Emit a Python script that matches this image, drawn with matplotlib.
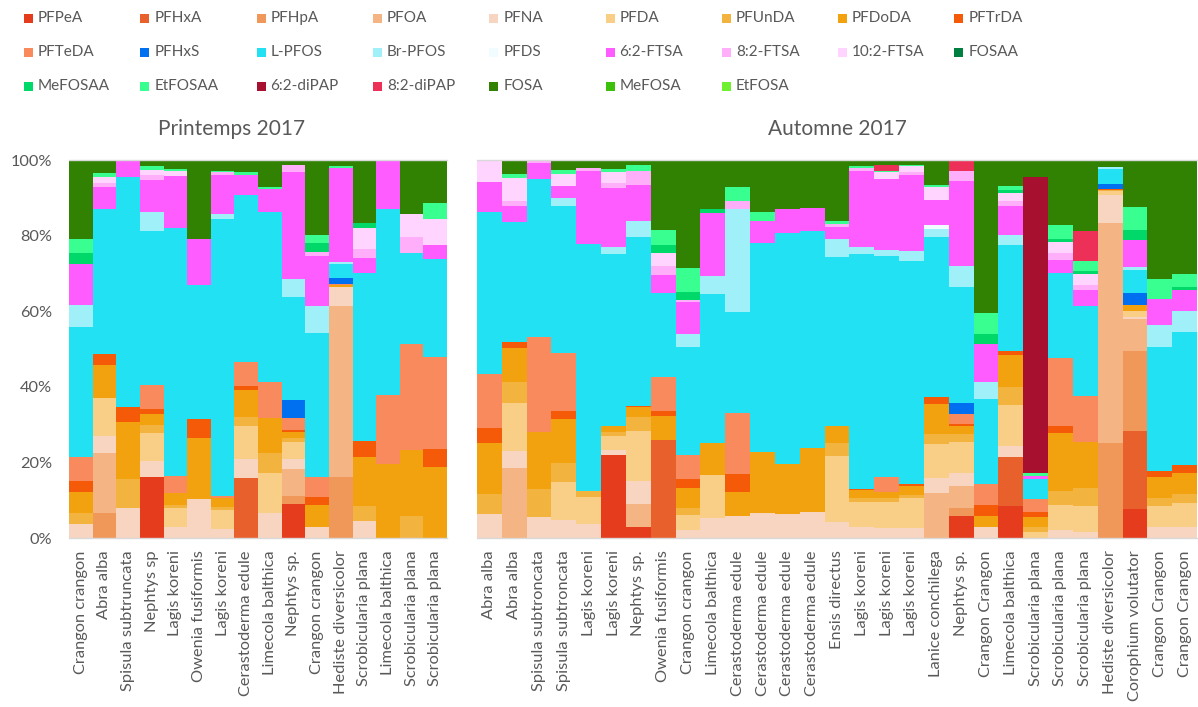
import matplotlib
matplotlib.use("Agg")
import matplotlib.pyplot as plt
from matplotlib.patches import Rectangle
import numpy as np

plt.rcParams['font.family'] = ['Lato', 'DejaVu Sans']

compounds = ["PFPeA", "PFHxA", "PFHpA", "PFOA", "PFNA", "PFDA", "PFUnDA", "PFDoDA", "PFTrDA",
             "PFTeDA", "PFHxS", "L-PFOS", "Br-PFOS", "PFDS", "6:2-FTSA", "8:2-FTSA", "10:2-FTSA", "FOSAA",
             "MeFOSAA", "EtFOSAA", "6:2-diPAP", "8:2-diPAP", "FOSA", "MeFOSA", "EtFOSA"]
colors = ["#E63C1E", "#E8602C", "#F0985A", "#F4B483", "#F8D5C0", "#F9CF88", "#F3B43F", "#F2A20F", "#F45A08",
          "#F98A5E", "#0070F0", "#22E1F3", "#A0F0FA", "#F0FCFF", "#FF5CFF", "#FFAEFA", "#FFD4FF", "#008040",
          "#00D86A", "#38FF90", "#A81030", "#EC3058", "#318203", "#3CC00C", "#6EF030"]

spring_labels = ["Crangon crangon", "Abra alba", "Spisula subtruncata", "Nephtys sp", "Lagis koreni",
                 "Owenia fusiformis", "Lagis koreni", "Cerastoderma edule", "Limecola balthica", "Nephtys sp.",
                 "Crangon crangon", "Hediste diversicolor", "Scrobicularia plana", "Limecola balthica",
                 "Scrobicularia plana", "Scrobicularia plana"]
autumn_labels = ["Abra alba", "Abra alba", "Spisula subtroncata", "Spisula subtroncata", "Lagis koreni",
                 "Lagis koreni", "Nephtys sp.", "Owenia fusiformis", "Crangon crangon", "Limecola balthica",
                 "Cerastoderma edule", "Cerastoderma edule", "Cerastoderma edule", "Cerastoderma edule",
                 "Ensis directus", "Lagis koreni", "Lagis koreni", "Lagis koreni", "Lanice conchilega",
                 "Nephtys sp.", "Crangon Crangon", "Limecola balthica", "Scrobicularia plana",
                 "Scrobicularia plana", "Scrobicularia plana", "Hediste diversicolor", "Corophium volutator",
                 "Crangon Crangon", "Crangon Crangon"]

# ---- Printemps 2017 (16 samples), % per compound ----
sp_PFPeA    = [0, 0, 0, 16.2, 0, 0, 0, 0, 0, 9.0, 0, 0, 0, 0, 0, 0]
sp_PFHxA    = [0, 0, 0, 0, 0, 0, 0, 15.8, 0, 0, 0, 0, 0, 0, 0, 0]
sp_PFHpA    = [0, 6.7, 0, 0, 0, 0, 0, 0, 0, 2.1, 0, 16.2, 0, 0, 0, 0]
sp_PFOA     = [0, 15.7, 0, 0, 0, 0, 0, 0, 0, 7.1, 0, 45.0, 0, 0, 0, 0]
sp_PFNA     = [3.7, 4.4, 7.8, 4.1, 3.0, 10.2, 2.4, 5.0, 6.5, 2.6, 2.8, 4.9, 4.6, 0, 0, 0]
sp_PFDA     = [0, 10.1, 0, 7.5, 4.9, 0, 5.0, 8.9, 10.6, 4.7, 0, 0, 0, 0, 0, 0]
sp_PFUnDA   = [2.8, 0, 7.9, 1.9, 0.9, 0, 0.9, 2.4, 5.3, 1.1, 0, 0, 3.9, 0, 5.8, 0]
sp_PFDoDA   = [5.7, 8.9, 15.0, 3.1, 3.1, 16.3, 2.4, 7.1, 9.4, 1.5, 5.9, 0.5, 13.0, 19.6, 17.6, 18.9]
sp_PFTrDA   = [2.8, 2.7, 4.0, 1.1, 0, 4.9, 0, 1.1, 0, 0.4, 2.2, 0, 4.1, 0, 0, 4.7]
sp_PFTeDA   = [6.3, 0, 0, 6.4, 4.4, 0, 0.3, 6.2, 9.5, 3.3, 5.3, 0.4, 0, 18.3, 28.0, 24.4]
sp_PFHxS    = [0, 0, 0, 0, 0, 0, 0, 0, 0, 4.7, 0, 1.5, 0, 0, 0, 0]
sp_LPFOS    = [34.6, 38.4, 60.8, 40.7, 65.7, 35.5, 73.5, 44.2, 45.0, 27.2, 38.1, 3.8, 44.4, 49.1, 24.0, 26.0]
sp_BrPFOS   = [5.7, 0, 0, 5.0, 0, 0, 1.2, 0, 0, 4.9, 7.1, 0.4, 0, 0, 0, 0]
sp_PFDS     = [0] * 16
sp_FTSA62   = [10.8, 5.8, 4.4, 8.5, 13.7, 12.2, 10.4, 5.3, 5.9, 28.4, 13.2, 24.7, 4.1, 13.0, 0, 3.7]
sp_FTSA82   = [0, 0.9, 0, 1.3, 0, 0, 0.6, 0, 0, 1.8, 1.1, 0, 2.3, 0, 4.1, 0]
sp_FTSA102  = [0, 1.8, 0, 1.3, 1.3, 0, 0, 0, 0, 0, 0, 0, 5.5, 0, 6.1, 6.9]
sp_FOSAA    = [0] * 16
sp_MeFOSAA  = [3.1, 0, 0, 0, 0, 0, 0, 0, 0, 0, 2.2, 0, 1.5, 0, 0, 0]
sp_EtFOSAA  = [3.5, 0.9, 0, 1.0, 0.6, 0, 0.5, 0.8, 0.7, 0, 2.2, 0.6, 0, 0, 0, 4.0]
sp_diPAP62  = [0] * 16
sp_diPAP82  = [0] * 16
sp_FOSA     = [21.0, 3.5, 0, 1.6, 2.4, 20.9, 2.8, 3.2, 7.1, 1.3, 19.8, 1.6, 16.6, 0, 14.4, 11.5]
sp_MeFOSA   = [0] * 16
sp_EtFOSA   = [0] * 16

# ---- Automne 2017 (29 samples), % per compound ----
au_PFPeA    = [0, 0, 0, 0, 0, 22.0, 3.0, 0, 0, 0, 0, 0, 0, 0, 0, 0, 0, 0, 0, 5.9, 0, 8.5, 0, 0, 0, 0, 7.8, 0, 0]
au_PFHxA    = [0, 0, 0, 0, 0, 0, 0, 26.1, 0, 0, 0, 0, 0, 0, 0, 0, 0, 0, 0, 0, 0, 13.1, 0, 0, 0, 0, 20.7, 0, 0]
au_PFHpA    = [0, 0, 0, 0, 0, 0, 0, 0, 0, 0, 0, 0, 0, 0, 0, 0, 0, 0, 0, 1.9, 0, 0, 0, 0, 0, 25.2, 21.2, 0, 0]
au_PFOA     = [0, 18.6, 0, 0, 0, 0, 6.0, 0, 0, 0, 0, 0, 0, 0, 0, 0, 0, 0, 12.0, 5.9, 0, 0, 0, 0, 0, 58.5, 8.4, 0, 0]
au_PFNA     = [6.3, 4.4, 5.6, 4.8, 3.6, 1.5, 6.1, 0, 2.1, 5.2, 5.8, 6.7, 6.5, 7.0, 4.3, 2.8, 2.7, 2.7, 4.0, 3.5,
               2.8, 2.8, 0, 2.1, 1.7, 7.3, 0.7, 3.0, 3.0]
au_PFDA     = [0, 12.8, 0, 10.1, 7.3, 3.5, 13.2, 0, 4.0, 11.5, 0, 0, 0, 0, 17.4, 6.8, 6.9, 7.9, 9.1, 8.2,
               0, 10.8, 1.5, 6.6, 6.8, 1.1, 1.5, 5.5, 6.2]
au_PFUnDA   = [5.3, 5.8, 7.5, 5.0, 1.6, 1.1, 3.5, 0, 1.9, 0, 0, 0, 0, 0, 3.6, 1.1, 1.1, 0.7, 2.6, 2.0,
               0, 4.9, 1.3, 3.8, 4.7, 0.3, 0, 2.0, 2.4]
au_PFDoDA   = [13.8, 9.0, 15.2, 11.6, 0, 1.8, 2.6, 6.3, 5.3, 8.6, 6.4, 16.1, 13.1, 16.9, 4.4, 2.0, 1.6, 2.4, 7.9, 2.1,
               3.0, 8.6, 2.8, 15.3, 12.2, 0, 1.6, 5.7, 5.7]
au_PFTrDA   = [4.0, 1.6, 0, 2.3, 0, 0, 0.4, 1.3, 2.3, 0, 4.7, 0, 0, 0, 0, 0.4, 0, 0.5, 1.8, 0.4,
               3.1, 1.1, 1.3, 1.9, 0, 0.3, 0, 1.5, 2.0]
au_PFTeDA   = [14.3, 0, 25.3, 15.3, 0, 0, 0, 9.0, 6.3, 0, 16.2, 0, 0, 0, 0, 0, 4.0, 0, 0, 2.8,
               5.4, 0, 3.4, 18.1, 12.3, 0, 0, 0, 0]
au_PFHxS    = [0, 0, 0, 0, 0, 0, 0, 0, 0, 0, 0, 0, 0, 0, 0, 0, 0, 0, 0, 2.8, 0, 0, 0, 0, 0, 1.2, 3.3, 0, 0]
au_LPFOS    = [43.0, 31.7, 42.0, 39.1, 65.7, 45.7, 44.6, 22.5, 28.9, 39.6, 27.0, 55.6, 61.6, 57.6, 44.9, 62.2,
               58.6, 59.4, 42.5, 30.6, 22.7, 28.0, 5.3, 22.7, 24.1, 4.1, 6.0, 33.1, 35.4]
au_BrPFOS   = [0, 0, 0, 2.0, 0, 1.7, 4.1, 0, 3.4, 4.7, 27.2, 0, 0, 0, 4.9, 1.9, 1.8, 2.5, 2.2, 5.4,
               4.4, 2.6, 0, 0, 0, 0.6, 0.8, 5.8, 5.7]
au_PFDS     = [0, 0, 0, 0, 0, 0, 0, 0, 0, 0, 0, 0, 0, 0, 0, 0, 0, 0, 1.0, 0, 0, 0, 0, 0, 0, 0, 0, 0, 0]
au_FTSA62   = [8.1, 4.5, 4.4, 3.3, 19.3, 15.7, 9.4, 4.7, 8.5, 16.9, 0, 5.9, 6.2, 6.2, 3.2, 20.4, 18.7, 20.1,
               6.6, 22.5, 10.3, 7.9, 0.9, 3.5, 4.1, 0, 7.1, 7.0, 5.6]
au_FTSA82   = [0, 1.1, 0.7, 0, 0.9, 1.3, 3.8, 2.4, 0.4, 0, 2.2, 0, 0, 0, 0.9, 0.8, 0, 0.9, 0, 2.6,
               0, 1.3, 0, 1.8, 1.4, 0, 0, 0, 0]
au_FTSA102  = [5.8, 6.2, 0, 3.1, 0, 2.9, 0, 3.5, 0, 0, 0, 0, 0, 0, 0, 0, 1.8, 1.5, 3.5, 0,
               0, 2.0, 0, 2.9, 2.8, 0, 0, 0, 0]
au_FOSAA    = [0] * 29
au_MeFOSAA  = [0, 0, 0, 0, 0, 0, 0, 2.2, 2.1, 1.0, 0, 0, 0, 0, 0, 0, 0, 0, 0, 0,
               2.5, 0.7, 0, 0.9, 0.9, 0, 2.6, 0, 0.6]
au_EtFOSAA  = [0, 1.2, 0, 1.1, 0, 0.9, 1.6, 3.9, 6.4, 0, 3.8, 2.5, 0, 0, 0.8, 0.5, 0.4, 0.4, 0.6, 0,
               5.6, 1.2, 0.9, 3.7, 2.6, 0, 6.1, 5.1, 3.4]
au_diPAP62  = [0, 0, 0, 0, 0, 0, 0, 0, 0, 0, 0, 0, 0, 0, 0, 0, 0, 0, 0, 0, 0, 0, 78.5, 0, 0, 0, 0, 0, 0]
au_diPAP82  = [0, 0, 0, 0, 0, 0, 0, 0, 0, 0, 0, 0, 0, 0, 0, 0, 1.6, 0, 0, 2.9, 0, 0, 0, 0, 7.9, 0, 0, 0, 0]
au_FOSA     = [0, 3.6, 0, 2.6, 2.0, 2.4, 1.3, 18.6, 28.7, 13.0, 7.1, 13.7, 13.1, 12.8, 16.1, 1.5, 1.3, 1.3,
               6.6, 0, 40.7, 6.9, 4.6, 17.2, 19.0, 1.8, 12.6, 31.7, 30.4]
au_MeFOSA   = [0] * 29
au_EtFOSA   = [0] * 29

spring = [sp_PFPeA, sp_PFHxA, sp_PFHpA, sp_PFOA, sp_PFNA, sp_PFDA, sp_PFUnDA, sp_PFDoDA, sp_PFTrDA,
          sp_PFTeDA, sp_PFHxS, sp_LPFOS, sp_BrPFOS, sp_PFDS, sp_FTSA62, sp_FTSA82, sp_FTSA102, sp_FOSAA,
          sp_MeFOSAA, sp_EtFOSAA, sp_diPAP62, sp_diPAP82, sp_FOSA, sp_MeFOSA, sp_EtFOSA]
autumn = [au_PFPeA, au_PFHxA, au_PFHpA, au_PFOA, au_PFNA, au_PFDA, au_PFUnDA, au_PFDoDA, au_PFTrDA,
          au_PFTeDA, au_PFHxS, au_LPFOS, au_BrPFOS, au_PFDS, au_FTSA62, au_FTSA82, au_FTSA102, au_FOSAA,
          au_MeFOSAA, au_EtFOSAA, au_diPAP62, au_diPAP82, au_FOSA, au_MeFOSA, au_EtFOSA]

W, H = 1198, 707
fig = plt.figure(figsize=(W / 100, H / 100), dpi=100)

def ax_rect(x0, x1, ytop, ybot):
    return [x0 / W, 1 - ybot / H, (x1 - x0) / W, (ybot - ytop) / H]

axL = fig.add_axes(ax_rect(69, 447, 160, 538))
axR = fig.add_axes(ax_rect(477, 1197, 160, 538))

label_color = "#595959"

def draw(ax, data, labels, title, show_y, title_x):
    arr = np.array(data, dtype=float)
    arr = arr / arr.sum(axis=0) * 100.0
    x = np.arange(arr.shape[1])
    bottom = np.zeros(arr.shape[1])
    for vals, c in zip(arr, colors):
        ax.bar(x, vals, bottom=bottom, width=1.0, color=c, linewidth=0)
        bottom += vals
    ax.set_xlim(-0.5, len(x) - 0.5)
    ax.set_ylim(0, 100)
    ax.set_xticks(x)
    ax.set_xticklabels(labels, rotation=90, fontsize=11.8, color=label_color)
    ax.set_yticks([0, 20, 40, 60, 80, 100])
    if show_y:
        ax.set_yticklabels([f"{v}%" for v in [0, 20, 40, 60, 80, 100]], fontsize=11.8, color=label_color)
    else:
        ax.set_yticklabels([])
    ax.tick_params(axis="y", length=0, pad=12)
    ax.tick_params(axis="x", length=0, pad=9)
    for s in ["left", "right"]:
        ax.spines[s].set_visible(False)
    for s in ["top", "bottom"]:
        ax.spines[s].set_color("#D9D9D9")
        ax.spines[s].set_linewidth(1.0)
    ax.set_title(title, fontsize=15, color=label_color, pad=18, x=title_x)

draw(axL, spring, spring_labels, "Printemps 2017", True, (232 - 69) / 378)
draw(axR, autumn, autumn_labels, "Automne 2017", False, 0.5)

# legend (3 rows x 9 columns)
for i, (name, c) in enumerate(zip(compounds, colors)):
    col, row = i % 9, i // 9
    xm = 24 + col * 116.3
    ym = 18 + row * 34
    fig.patches.append(Rectangle(((xm) / W, 1 - (ym + 4.5) / H), 9 / W, 9 / H,
                                 transform=fig.transFigure, facecolor=c, edgecolor="none"))
    fig.text((xm + 14) / W, 1 - ym / H, name, fontsize=11, color=label_color,
             va="center", ha="left")

fig.savefig("out.png", dpi=100)
